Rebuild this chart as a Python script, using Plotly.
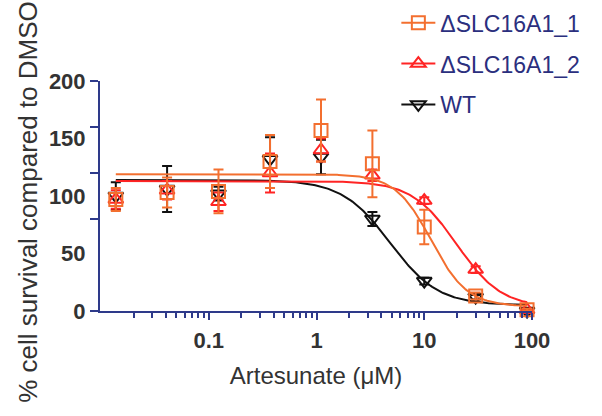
import numpy as np
import plotly.graph_objects as go

# concentrations (µM)
conc = [0.0137, 0.041, 0.123, 0.37, 1.1, 3.3, 10, 30, 90]

wt_mean = [100, 106, 102, 132, 134, 80, 26, 12, 0]
wt_err = [12, 20, 6, 19, 15, 6, 3, 2, 1]

ko1_mean = [97, 103, 104, 130, 157, 128, 73, 13, 1]
ko1_err = [10, 13, 19, 23, 27, 29, 15, 3, 1]

ko2_mean = [97, 105, 95, 120, 140, 118, 96, 36, 1]
ko2_err = [8, 8, 8, 17, 10, 5, 3, 3, 1]

# 4-parameter logistic fit parameters: top, bottom, IC50, hill
wt_fit = (114, 5, 4.8, 1.95)
ko1_fit = (119, 4, 11.6, 2.6)
ko2_fit = (113, 3, 20.0, 2.09)

names = ["WT", "ΔSLC16A1_2", "ΔSLC16A1_1"]
colors = ["#111111", "#FF2424", "#F36F2F"]
symbols = ["triangle-down-open", "triangle-up-open", "square-open"]

x_ticks = [0.1, 1, 10, 100]
x_minor = [v * m for v in [0.01, 0.1, 1, 10] for m in range(2, 10)]
y_ticks_marks = [0, 80, 120, 160, 200]
y_ticks_labels = [0, 50, 100, 150, 200]

AXIS = "#2E3A8A"
TXT = "#333333"
FONT = "Liberation Sans, Arial, sans-serif"


def logistic(x, p):
    top, bottom, ic50, h = p
    x = np.asarray(x)
    return bottom + (top - bottom) / (1 + (x / ic50) ** h)


xc = np.logspace(np.log10(conc[0]), np.log10(conc[-1]), 300)

fig = go.Figure()
data = [(wt_mean, wt_err, wt_fit), (ko2_mean, ko2_err, ko2_fit), (ko1_mean, ko1_err, ko1_fit)]
for (m, e, p), name, col, sym in zip(data, names, colors, symbols):
    fig.add_trace(go.Scatter(
        x=xc, y=logistic(xc, p), mode="lines",
        line=dict(color=col, width=2), showlegend=False, hoverinfo="skip",
        cliponaxis=False))
    fig.add_trace(go.Scatter(
        x=conc, y=m, mode="markers", name=name,
        marker=dict(symbol=sym, size=13, color=col, line=dict(width=2, color=col)),
        error_y=dict(type="data", array=e, visible=True, color=col, thickness=2, width=5),
        showlegend=False, cliponaxis=False))

# legend entries (line + marker), in the reference's order
for name, col, sym in list(zip(names, colors, symbols))[::-1]:
    fig.add_trace(go.Scatter(
        x=[None], y=[None], mode="lines+markers", name=name,
        line=dict(color=col, width=2),
        marker=dict(symbol=sym, size=13, color=col, line=dict(width=2, color=col)),
        legendgroup=name))

fig.update_layout(
    width=602, height=416,
    margin=dict(l=100, r=70, t=81, b=105, autoexpand=False),
    paper_bgcolor="white", plot_bgcolor="white",
    font=dict(family=FONT, color=TXT),
    legend=dict(
        x=0.686, y=1.347, xanchor="left", yanchor="top",
        traceorder="grouped", tracegroupgap=8, itemwidth=34,
        font=dict(size=23, color="#2B2F7E"),
        bgcolor="rgba(0,0,0,0)",
    ),
    xaxis=dict(
        type="log", range=[-2.01, 2.0], automargin=False,
        showline=True, linecolor=AXIS, linewidth=2,
        ticks="outside", tickcolor=AXIS, tickwidth=2, ticklen=7,
        tickvals=x_ticks, ticktext=["0.1", "1", "10", "100"],
        ticklabelstandoff=2,
        tickfont=dict(size=22, color=TXT, family=FONT, weight="bold"),
        minor=dict(tickvals=x_minor, ticks="outside", ticklen=5, tickwidth=2, tickcolor=AXIS),
        showgrid=False, zeroline=False,
        title=dict(text="Artesunate (μM)", font=dict(size=24, color=TXT), standoff=15),
    ),
    yaxis=dict(
        range=[0, 200], automargin=False,
        showline=True, linecolor=AXIS, linewidth=2,
        ticks="outside", tickcolor=AXIS, tickwidth=2, ticklen=8,
        tickvals=y_ticks_marks, ticktext=[""] * len(y_ticks_marks),
        showgrid=False, zeroline=False,
    ),
    yaxis2=dict(
        range=[0, 200], overlaying="y", side="left", automargin=False,
        showline=False, ticks="outside", ticklen=9, tickcolor="rgba(0,0,0,0)",
        tickvals=y_ticks_labels, ticktext=[str(v) for v in y_ticks_labels],
        tickfont=dict(size=22, color=TXT, weight="bold"),
        showgrid=False, zeroline=False,
    ),
    annotations=[dict(
        text="% cell survival compared to DMSO", textangle=-90,
        xref="paper", yref="paper", x=-0.167, y=0.474,
        xanchor="center", yanchor="middle", showarrow=False,
        font=dict(size=26, color=TXT, family=FONT),
    )],
)

# dummy trace on yaxis2 to make it render
fig.add_trace(go.Scatter(x=[None], y=[None], yaxis="y2", showlegend=False))

fig.write_html("out.html", config={"displayModeBar": False},
               post_script="document.body.style.margin='0';")
